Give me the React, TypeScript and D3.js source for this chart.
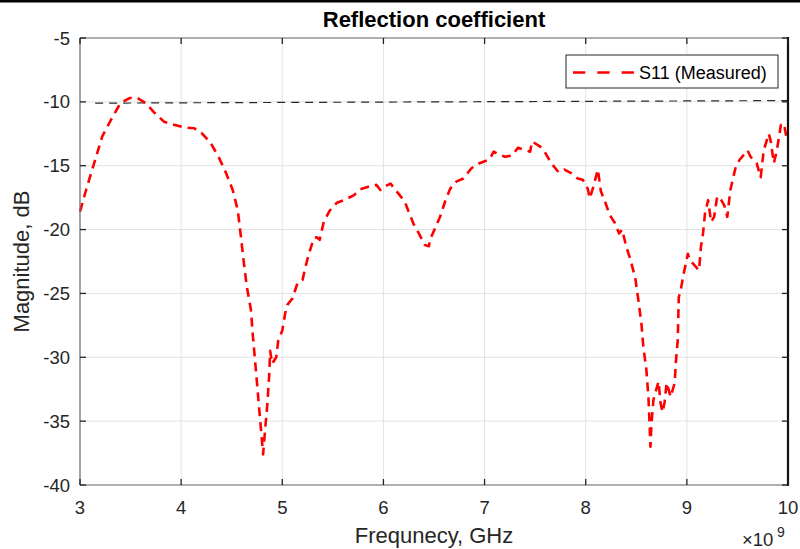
import React from "react";
import * as d3 from "d3";

const freqGHz = [
  3.0, 3.06, 3.14, 3.22, 3.32, 3.4, 3.49, 3.57, 3.65, 3.73, 3.83, 3.93, 4.03, 4.13, 4.21, 4.29,
  4.37, 4.44, 4.51, 4.56, 4.59, 4.62, 4.65, 4.69, 4.71, 4.73, 4.75, 4.77, 4.79, 4.81, 4.83, 4.85,
  4.87, 4.88, 4.9, 4.94, 4.96, 5.0, 5.03, 5.05, 5.1, 5.15, 5.2, 5.23, 5.26, 5.31, 5.34, 5.37,
  5.41, 5.47, 5.54, 5.61, 5.71, 5.77, 5.87, 5.93, 5.97, 6.02, 6.07, 6.13, 6.21, 6.25, 6.3, 6.35,
  6.41, 6.45, 6.46, 6.51, 6.56, 6.61, 6.66, 6.72, 6.79, 6.87, 6.95, 7.05, 7.09, 7.17, 7.2, 7.27,
  7.33, 7.45, 7.47, 7.55, 7.6, 7.66, 7.73, 7.79, 7.86, 7.92, 7.97, 8.02, 8.04, 8.07, 8.12, 8.15,
  8.19, 8.24, 8.29, 8.33, 8.36, 8.4, 8.44, 8.47, 8.49, 8.52, 8.55, 8.57, 8.6, 8.62, 8.63, 8.64,
  8.65, 8.67, 8.72, 8.74, 8.76, 8.78, 8.8, 8.84, 8.88, 8.89, 8.91, 8.92, 8.94, 8.97, 9.01, 9.03,
  9.12, 9.14, 9.16, 9.18, 9.21, 9.24, 9.27, 9.3, 9.34, 9.37, 9.4, 9.43, 9.48, 9.52, 9.6, 9.63,
  9.69, 9.73, 9.76, 9.81, 9.83, 9.86, 9.89, 9.93, 9.96, 9.99, 10.0,
];

const s11dB = [
  -18.6, -16.9, -14.8, -12.7, -11.2, -10.1, -9.7, -9.7, -10.1, -10.8, -11.55, -11.8, -12.0, -12.07, -12.5, -13.2,
  -14.3, -15.5, -16.9, -18.5, -20.5, -22.6, -24.5, -26.3, -28.4, -30.2, -32.0, -33.9, -35.7, -37.6, -35.7, -33.9,
  -31.5, -29.5, -30.5, -30.0, -28.7, -27.9, -26.5, -25.9, -25.4, -24.2, -23.95, -22.9, -22.0, -20.7, -20.6, -20.8,
  -19.4, -18.5, -17.9, -17.7, -17.3, -16.85, -16.6, -16.5, -16.9, -16.6, -16.4, -17.0, -17.8, -18.6, -19.6, -20.3,
  -21.2, -21.3, -20.8, -19.9, -19.0, -17.8, -16.8, -16.25, -16.0, -15.2, -14.8, -14.5, -13.9, -14.2, -14.3, -14.2,
  -13.6, -13.9, -13.1, -13.5, -14.0, -14.8, -15.5, -15.3, -15.6, -16.0, -16.1, -16.8, -17.55, -16.8, -15.3, -17.0,
  -17.8, -18.9, -19.5, -20.3, -20.0, -21.3, -22.3, -23.2, -23.8, -25.5, -27.3, -29.2, -31.0, -33.1, -34.9, -37.0,
  -35.2, -33.3, -31.9, -33.6, -34.3, -33.5, -32.0, -33.1, -32.0, -30.5, -28.65, -25.3, -24.7, -23.4, -21.9, -22.4,
  -23.2, -21.3, -20.3, -18.7, -17.7, -19.4, -19.0, -17.4, -17.7, -18.1, -19.0, -16.9, -15.2, -14.55, -13.8, -14.3,
  -14.8, -15.9, -13.8, -12.5, -13.1, -14.8, -13.8, -11.8, -11.7, -13.0, -13.1,
];

const thresholdGHz = [3.15, 10];
const thresholdDB = [-10.1, -9.9];

const xTicks = [3, 4, 5, 6, 7, 8, 9, 10];
const yTicks = [-5, -10, -15, -20, -25, -30, -35, -40];

const titleText = "Reflection coefficient";
const xLabelText = "Frequnecy, GHz";
const yLabelText = "Magnitude, dB";
const legendText = "S11 (Measured)";

const W = 800;
const H = 549;
const L = 80;
const R = 788;
const T = 38;
const B = 485;
const FONT = "'Liberation Sans', Arial, Helvetica, sans-serif";

export default function App() {
  const x = d3.scaleLinear().domain([3, 10]).range([L, R]);
  const y = d3.scaleLinear().domain([-40, -5]).range([B, T]);

  const pts: [number, number][] = freqGHz.map((f, i) => [f, s11dB[i]]);
  const line = d3
    .line<[number, number]>()
    .x((d) => x(d[0]))
    .y((d) => y(d[1]));

  const thrPts: [number, number][] = thresholdGHz.map((f, i) => [f, thresholdDB[i]]);
  const tick = 6;

  return (
    <svg
      width={W}
      height={H}
      style={{ position: "absolute", left: 0, top: 0, background: "#fff" }}
      fontFamily={FONT}
    >
      <rect x={0} y={0} width={W} height={H} fill="#fff" />
      <line x1={0} x2={W} y1={1} y2={1} stroke="#000" strokeWidth={3} />

      {/* grid */}
      {xTicks.map((t) => (
        <line key={"gx" + t} x1={x(t)} x2={x(t)} y1={T} y2={B} stroke="#e3e3e3" strokeWidth={1} />
      ))}
      {yTicks.map((t) => (
        <line key={"gy" + t} x1={L} x2={R} y1={y(t)} y2={y(t)} stroke="#e3e3e3" strokeWidth={1} />
      ))}

      {/* threshold */}
      <path
        d={line(thrPts) || ""}
        fill="none"
        stroke="#2a2a2a"
        strokeWidth={1.2}
        strokeDasharray="8,6"
      />

      {/* data */}
      <path
        d={line(pts) || ""}
        fill="none"
        stroke="#ff0000"
        strokeWidth={2.6}
        strokeDasharray="9,6"
        strokeLinejoin="round"
      />

      {/* axes box */}
      <line x1={L} x2={R} y1={T} y2={T} stroke="#6e6e6e" strokeWidth={1} />
      <line x1={L} x2={R} y1={B} y2={B} stroke="#6e6e6e" strokeWidth={1.2} />
      <line x1={L} x2={L} y1={T} y2={B} stroke="#6e6e6e" strokeWidth={1.2} />
      <line x1={R} x2={R} y1={T - 1} y2={B + 1} stroke="#111" strokeWidth={2.2} />

      {xTicks.map((t) => (
        <g key={"xt" + t}>
          <line x1={x(t)} x2={x(t)} y1={B} y2={B - tick} stroke="#222" strokeWidth={1.3} />
          <line x1={x(t)} x2={x(t)} y1={T} y2={T + tick} stroke="#222" strokeWidth={1.3} />
          <text x={x(t)} y={514} textAnchor="middle" fontSize={18.5} fill="#262626">
            {t}
          </text>
        </g>
      ))}
      {yTicks.map((t) => (
        <g key={"yt" + t}>
          <line x1={L} x2={L + tick} y1={y(t)} y2={y(t)} stroke="#222" strokeWidth={1.3} />
          <line x1={R} x2={R - tick} y1={y(t)} y2={y(t)} stroke="#222" strokeWidth={1.3} />
          <text x={70} y={y(t) + 6.5} textAnchor="end" fontSize={18.5} fill="#262626">
            {t}
          </text>
        </g>
      ))}

      {/* title & labels */}
      <text x={434} y={27} textAnchor="middle" fontSize={22} fontWeight="bold" fill="#000">
        {titleText}
      </text>
      <text x={434} y={543} textAnchor="middle" fontSize={22} fill="#262626">
        {xLabelText}
      </text>
      <text
        transform={`translate(29, ${(T + B) / 2}) rotate(-90)`}
        textAnchor="middle"
        fontSize={22}
        fill="#262626"
      >
        {yLabelText}
      </text>
      <text x={742} y={546} fontSize={18.5} fill="#262626">
        {"\u00d710"}
      </text>
      <text x={777} y={537} fontSize={14} fill="#262626">
        9
      </text>

      {/* legend */}
      <rect x={566} y={55} width={212} height={33} fill="#fff" stroke="#262626" strokeWidth={1} />
      <line
        x1={573}
        x2={634}
        y1={72.5}
        y2={72.5}
        stroke="#ff0000"
        strokeWidth={2.6}
        strokeDasharray="12.3,12"
      />
      <text x={639} y={79} fontSize={18} fill="#000">
        {legendText}
      </text>
    </svg>
  );
}
